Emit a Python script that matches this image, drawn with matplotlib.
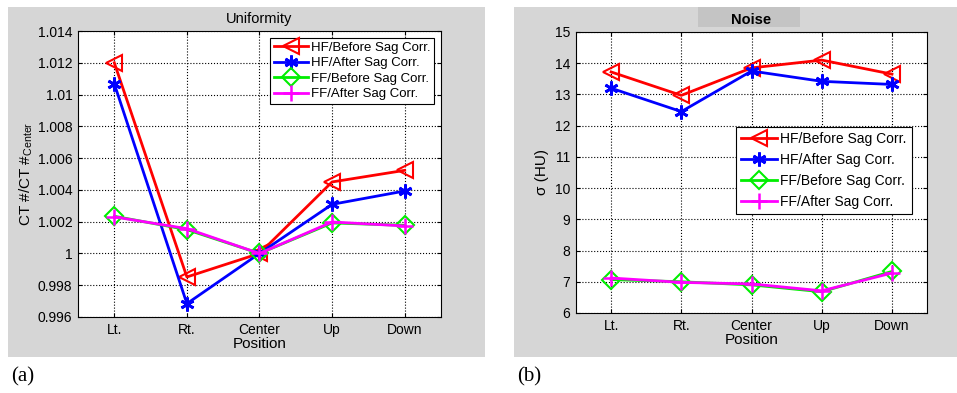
import matplotlib
matplotlib.use("Agg")
import matplotlib.pyplot as plt
from matplotlib.patches import Rectangle

plt.rcParams['font.family'] = ['Liberation Sans', 'DejaVu Sans']

# data
positions = ['Lt.', 'Rt.', 'Center', 'Up', 'Down']
labels = ['HF/Before Sag Corr.', 'HF/After Sag Corr.',
          'FF/Before Sag Corr.', 'FF/After Sag Corr.']

unif_hf_before = [1.0120, 0.99852, 1.0000, 1.0045, 1.00523]
unif_hf_after = [1.01068, 0.99684, 1.0000, 1.00309, 1.00393]
unif_ff_before = [1.00234, 1.0015, 1.0000, 1.00192, 1.00177]
unif_ff_after = [1.0023, 1.00156, 1.0000, 1.00198, 1.00173]

noise_hf_before = [13.72, 12.97, 13.85, 14.10, 13.65]
noise_hf_after = [13.20, 12.45, 13.75, 13.42, 13.32]
noise_ff_before = [7.07, 7.00, 6.90, 6.68, 7.33]
noise_ff_after = [7.12, 6.98, 6.93, 6.71, 7.28]

unif_yticks = [0.996, 0.998, 1, 1.002, 1.004, 1.006, 1.008, 1.01, 1.012, 1.014]
unif_yticklabels = ['0.996', '0.998', '1', '1.002', '1.004', '1.006', '1.008', '1.01', '1.012', '1.014']
noise_yticks = list(range(6, 16))

styles = [dict(color='red', marker='<', mfc='none', ms=12, mew=1.5),
          dict(color='blue', marker=(6, 2, 0), ms=10, mew=2),
          dict(color='#00ee00', marker='D', mfc='none', ms=9, mew=1.5),
          dict(color='#ff00ff', marker='+', ms=12, mew=1.8)]

fig = plt.figure(figsize=(9.57, 3.93), dpi=100)
fig.patch.set_facecolor('white')

# gray figure backgrounds
gray = '#d6d6d6'
fig.patches.append(Rectangle((0.0084, 0.0916), 0.4984, 0.8906, transform=fig.transFigure,
                             facecolor=gray, edgecolor='none', zorder=-10))
fig.patches.append(Rectangle((0.537, 0.0916), 0.463, 0.8906, transform=fig.transFigure,
                             facecolor=gray, edgecolor='none', zorder=-10))
# darker box behind noise title
fig.patches.append(Rectangle((0.729, 0.931), 0.107, 0.052, transform=fig.transFigure,
                             facecolor='#c4c4c4', edgecolor='none', zorder=-9))

x = list(range(len(positions)))


def style_axes(ax):
    ax.set_xlim(-0.5, 4.5)
    ax.set_xticks(x)
    ax.set_xticklabels(positions)
    ax.grid(True, linestyle=':', color='black', linewidth=0.8)
    ax.tick_params(direction='in', labelsize=10, length=3, top=True, right=True, pad=4)
    for s in ax.spines.values():
        s.set_linewidth(0.8)
    ax.set_xlabel('Position', fontsize=11, labelpad=0)


# (a) Uniformity
ax1 = fig.add_axes([0.0815, 0.1934, 0.3793, 0.7277])
for ys, st, lb in zip([unif_hf_before, unif_hf_after, unif_ff_before, unif_ff_after], styles, labels):
    ax1.plot(x, ys, lw=2, label=lb, **st)
ax1.set_ylim(0.996, 1.014)
ax1.set_yticks(unif_yticks)
ax1.set_yticklabels(unif_yticklabels)
style_axes(ax1)
ax1.set_ylabel('CT #/CT #$_{\\mathregular{Center}}$', fontsize=11, labelpad=2)
ax1.set_title('Uniformity', fontsize=10.5, pad=6)
leg1 = ax1.legend(loc='upper right', fontsize=9.5, fancybox=False, framealpha=1,
                  edgecolor='black', handlelength=2.6, borderpad=0.3,
                  labelspacing=0.25, handletextpad=0.2, borderaxespad=0.5)
leg1.get_frame().set_linewidth(0.8)

# (b) Noise
ax2 = fig.add_axes([0.6019, 0.2036, 0.3668, 0.715])
for ys, st, lb in zip([noise_hf_before, noise_hf_after, noise_ff_before, noise_ff_after], styles, labels):
    ax2.plot(x, ys, lw=2, label=lb, **st)
ax2.set_ylim(6, 15)
ax2.set_yticks(noise_yticks)
style_axes(ax2)
ax2.set_ylabel('σ (HU)', fontsize=11, labelpad=4)
ax2.set_title('Noise', fontsize=10.5, fontweight='bold', pad=6)
leg2 = ax2.legend(loc='center right', bbox_to_anchor=(0.957, 0.507), fontsize=10,
                  fancybox=False, framealpha=1, edgecolor='black', handlelength=2.6,
                  borderpad=0.4, labelspacing=0.5, handletextpad=0.2, borderaxespad=0)
leg2.get_frame().set_linewidth(0.8)

fig.text(0.012, 0.03, '(a)', fontsize=15, family='Liberation Serif')
fig.text(0.540, 0.03, '(b)', fontsize=15, family='Liberation Serif')

fig.savefig('out.png', dpi=100)
